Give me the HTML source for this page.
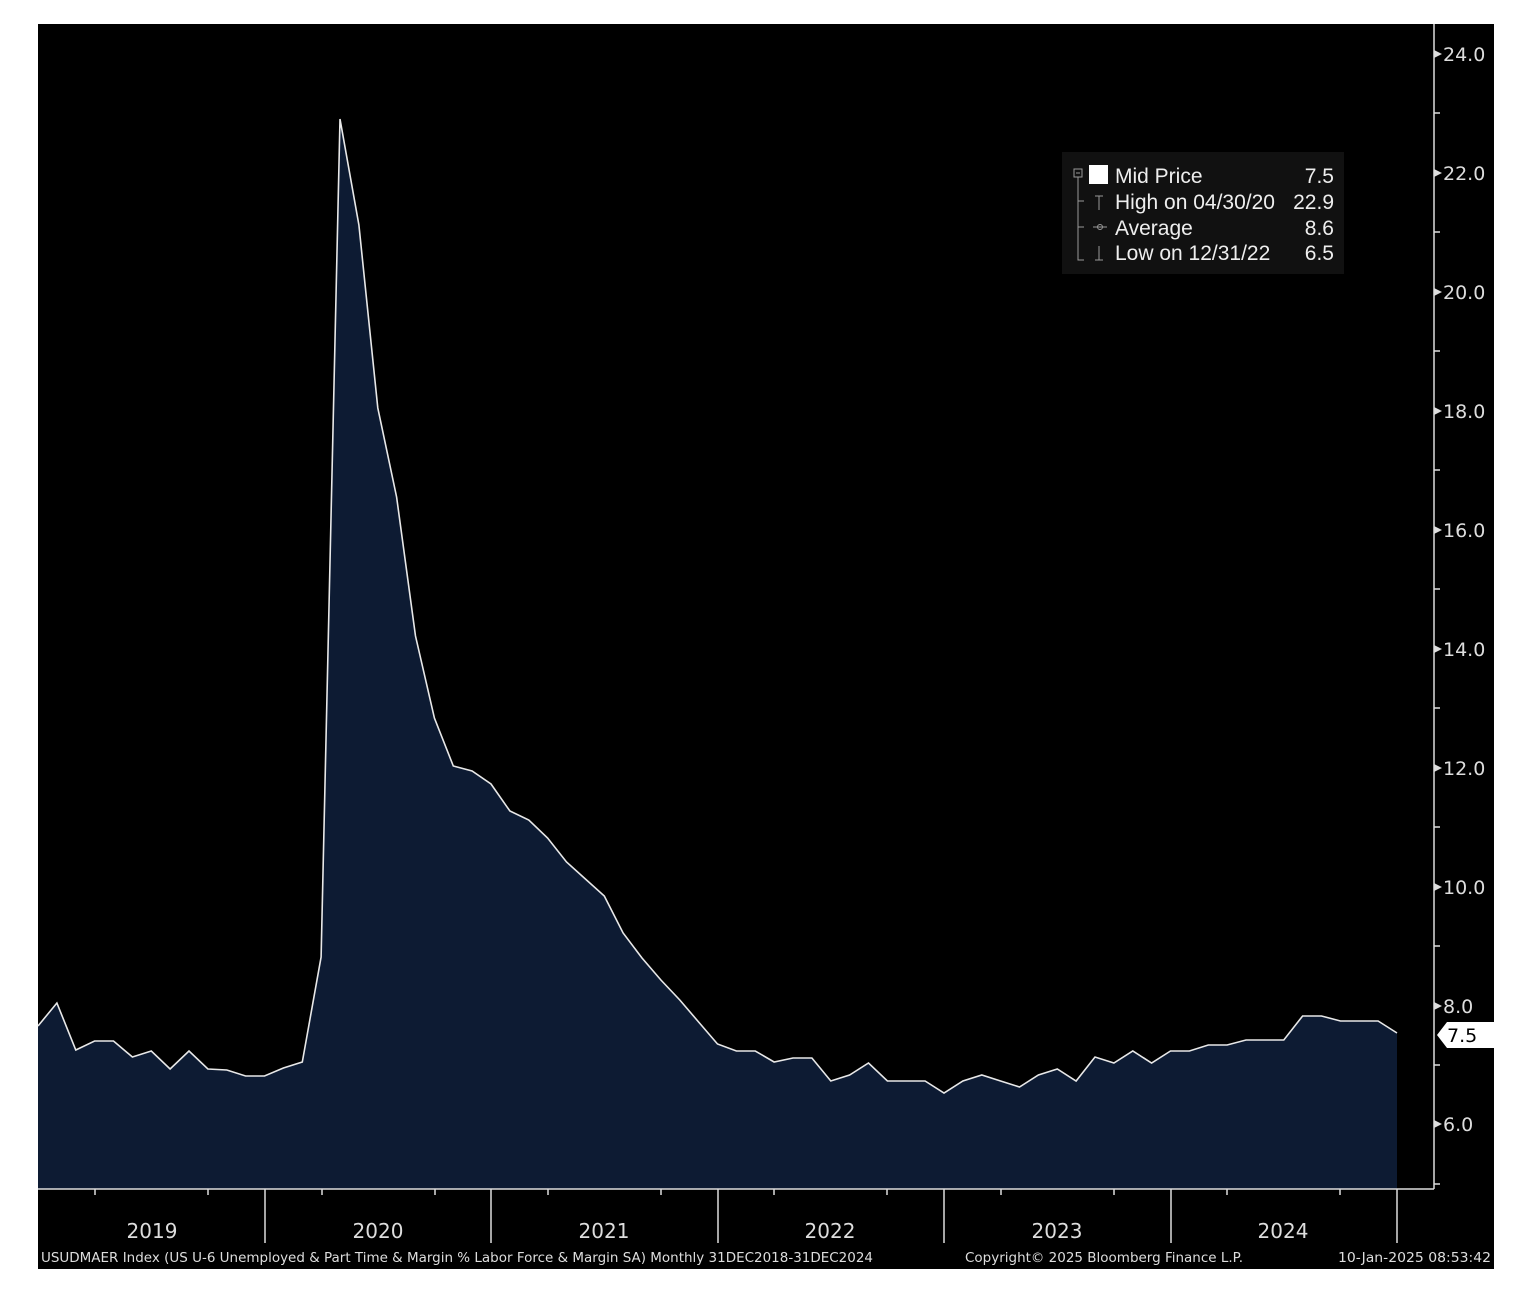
<!DOCTYPE html>
<html><head><style>
html,body{margin:0;padding:0;background:#fff;}
svg{display:block;}
text{font-family:"DejaVu Sans","Liberation Sans",sans-serif;}
.lg{font-family:"Liberation Sans",sans-serif;}
</style></head><body>
<svg width="1520" height="1290" viewBox="0 0 1520 1290" xmlns="http://www.w3.org/2000/svg">
<rect x="0" y="0" width="1520" height="1290" fill="#fff"/>
<rect x="38" y="24" width="1456" height="1245" fill="#000"/>
<polygon fill="#0d1b33" points="38,1189 38,1026 56.9,1003 75.8,1050 94.6,1041 113.5,1041 132.4,1057 151.3,1051 170.1,1069 189,1051 207.9,1069 226.8,1070 245.6,1076 264.5,1076 283.4,1068 302.3,1062 321.1,957 340,119 358.9,225 377.8,408 396.6,497 415.5,636 434.4,718 453.3,766 472.1,771 491,784 509.9,811 528.8,820 547.6,838 566.5,862 585.4,879 604.3,896 623.1,933 642,958 660.9,980 679.8,1000 698.6,1022 717.5,1044 736.4,1051 755.3,1051 774.1,1062 793,1058 811.9,1058 830.8,1081 849.6,1075 868.5,1063 887.4,1081 906.3,1081 925.1,1081 944,1093 962.9,1081 981.8,1075 1000.6,1081 1019.5,1087 1038.4,1075 1057.3,1069 1076.1,1081 1095,1057 1113.9,1063 1132.8,1051 1151.6,1063 1170.5,1051 1189.4,1051 1208.3,1045 1227.1,1045 1246,1040 1264.9,1040 1283.8,1040 1302.6,1016 1321.5,1016 1340.4,1021 1359.3,1021 1378.1,1021 1397,1033 1397,1189"/>
<polyline fill="none" stroke="#e8e8e8" stroke-width="1.6" points="38,1026 56.9,1003 75.8,1050 94.6,1041 113.5,1041 132.4,1057 151.3,1051 170.1,1069 189,1051 207.9,1069 226.8,1070 245.6,1076 264.5,1076 283.4,1068 302.3,1062 321.1,957 340,119 358.9,225 377.8,408 396.6,497 415.5,636 434.4,718 453.3,766 472.1,771 491,784 509.9,811 528.8,820 547.6,838 566.5,862 585.4,879 604.3,896 623.1,933 642,958 660.9,980 679.8,1000 698.6,1022 717.5,1044 736.4,1051 755.3,1051 774.1,1062 793,1058 811.9,1058 830.8,1081 849.6,1075 868.5,1063 887.4,1081 906.3,1081 925.1,1081 944,1093 962.9,1081 981.8,1075 1000.6,1081 1019.5,1087 1038.4,1075 1057.3,1069 1076.1,1081 1095,1057 1113.9,1063 1132.8,1051 1151.6,1063 1170.5,1051 1189.4,1051 1208.3,1045 1227.1,1045 1246,1040 1264.9,1040 1283.8,1040 1302.6,1016 1321.5,1016 1340.4,1021 1359.3,1021 1378.1,1021 1397,1033"/>
<g stroke="#ddd" stroke-width="1.5" fill="none">
<line x1="38" y1="1189" x2="1434" y2="1189"/>
<line x1="1434" y1="24" x2="1434" y2="1189"/>
<line x1="265" y1="1189" x2="265" y2="1243"/>
<line x1="491" y1="1189" x2="491" y2="1243"/>
<line x1="718" y1="1189" x2="718" y2="1243"/>
<line x1="944" y1="1189" x2="944" y2="1243"/>
<line x1="1171" y1="1189" x2="1171" y2="1243"/>
<line x1="1397" y1="1189" x2="1397" y2="1243"/>
<path d="M95 1189v6M208 1189v6M322 1189v6M435 1189v6M548 1189v6M661 1189v6M774 1189v6M887 1189v6M1001 1189v6M1114 1189v6M1227 1189v6M1340 1189v6"/>
<path d="M1434 113h6M1434 232h6M1434 351h6M1434 470h6M1434 589h6M1434 708h6M1434 827h6M1434 946h6M1434 1065h6M1434 1184h6"/>
</g>
<g fill="#ddd">
<polygon points="1434,50 1442,54 1434,58"/>
<polygon points="1434,169 1442,173 1434,177"/>
<polygon points="1434,288 1442,292 1434,296"/>
<polygon points="1434,407 1442,411 1434,415"/>
<polygon points="1434,526 1442,530 1434,534"/>
<polygon points="1434,645 1442,649 1434,653"/>
<polygon points="1434,764 1442,768 1434,772"/>
<polygon points="1434,883 1442,887 1434,891"/>
<polygon points="1434,1002 1442,1006 1434,1010"/>
<polygon points="1434,1120 1442,1124 1434,1128"/>
</g>
<g fill="#ddd" font-size="19">
<text x="1443" y="61">24.0</text>
<text x="1443" y="180">22.0</text>
<text x="1443" y="299">20.0</text>
<text x="1443" y="418">18.0</text>
<text x="1443" y="537">16.0</text>
<text x="1443" y="656">14.0</text>
<text x="1443" y="775">12.0</text>
<text x="1443" y="894">10.0</text>
<text x="1443" y="1013">8.0</text>
<text x="1443" y="1131">6.0</text>
</g>
<polygon points="1437,1035 1447,1022 1494,1022 1494,1048 1447,1048" fill="#fff"/>
<text x="1447" y="1042" font-size="19" fill="#000">7.5</text>
<g fill="#ddd" font-size="20" text-anchor="middle">
<text x="152" y="1238">2019</text>
<text x="378" y="1238">2020</text>
<text x="604" y="1238">2021</text>
<text x="830" y="1238">2022</text>
<text x="1057" y="1238">2023</text>
<text x="1283" y="1238">2024</text>
</g>
<g fill="#ddd" font-size="13">
<text x="41" y="1262" textLength="832" lengthAdjust="spacingAndGlyphs">USUDMAER Index (US U-6 Unemployed &amp; Part Time &amp; Margin % Labor Force &amp; Margin SA)  Monthly 31DEC2018-31DEC2024</text>
<text x="965" y="1262" textLength="278" lengthAdjust="spacingAndGlyphs">Copyright© 2025 Bloomberg Finance L.P.</text>
<text x="1338" y="1262" textLength="153" lengthAdjust="spacingAndGlyphs">10-Jan-2025 08:53:42</text>
</g>
<rect x="1062" y="152" width="282" height="122" fill="#111"/>
<g stroke="#999" stroke-width="1" fill="none">
<rect x="1074" y="169" width="8" height="8"/>
<path d="M1076 173h4M1078 177v83h6M1078 201h6M1078 227h6"/>
<path d="M1095 196h8M1099 196v14M1093 227h14M1095 260h8M1099 246v14"/>
<circle cx="1100" cy="227" r="2.5"/>
</g>
<rect x="1089" y="165" width="19" height="19" fill="#fff"/>
<g fill="#eee" font-size="21" class="lg">
<text x="1115" y="183" class="lg">Mid Price</text>
<text x="1115" y="209" class="lg">High on 04/30/20</text>
<text x="1115" y="235" class="lg">Average</text>
<text x="1115" y="260" class="lg">Low on 12/31/22</text>
<text x="1334" y="183" text-anchor="end" class="lg">7.5</text>
<text x="1334" y="209" text-anchor="end" class="lg">22.9</text>
<text x="1334" y="235" text-anchor="end" class="lg">8.6</text>
<text x="1334" y="260" text-anchor="end" class="lg">6.5</text>
</g>
</svg>
</body></html>
